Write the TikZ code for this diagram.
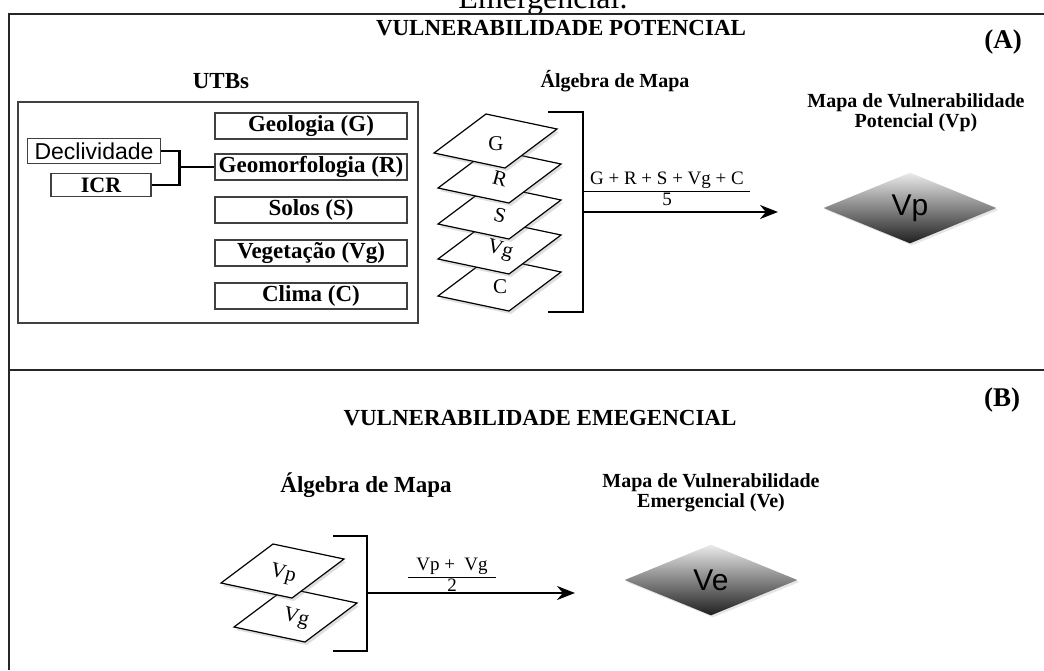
\documentclass[tikz,border=0pt]{standalone}
\usepackage{fontspec}
\setmainfont{Liberation Serif}
\setsansfont{Liberation Sans}
\usetikzlibrary{arrows.meta,shapes.geometric,shadows}

\tikzset{
  frame/.style={line width=1pt, black!85},
  heading/.style={font=\bfseries\fontsize{11.5}{10}\selectfont, align=center, inner sep=0pt},
  utb/.style={draw=black!75, line width=0.7pt, fill=white, minimum width=96pt, minimum height=13pt, inner sep=0pt, font=\bfseries\fontsize{11.5}{12}\selectfont},
  link/.style={line width=1.2pt},
  layer/.style={draw, line width=0.6pt, fill=white, drop shadow={opacity=0.25, shadow xshift=1pt, shadow yshift=-1.5pt}},
  layertext/.style={font=\fontsize{10.5}{11}\selectfont, inner sep=0pt},
  bracket/.style={line width=1.3pt},
  formula/.style={font=\fontsize{9.5}{10}\selectfont, inner sep=0pt},
  mapa/.style={shape=diamond, minimum width=86.5pt, minimum height=35.5pt, inner sep=0pt,
    top color=black!8, middle color=black!45, bottom color=black!88,
    drop shadow={opacity=0.2, shadow xshift=1pt, shadow yshift=-1pt},
    font=\sffamily\fontsize{15}{15}\selectfont}
}

% one map layer: name, x, y, label angle, label
\newcommand{\maplayer}[5]{%
  \draw[layer] (#2-61,#3+12) -- (#2+10,#3+27) -- (#2+62,#3-12) -- (#2-9,#3-27) -- cycle;
  \node[layertext, rotate=#4] (#1) at (#2+1,#3+3) {#5};
}

\begin{document}
\begin{tikzpicture}[x=0.5pt, y=-0.5pt, >=Stealth]
    \useasboundingbox (0,0) rectangle (1044,670);
    \clip (0,0) rectangle (1044,670);

    % caption of the figure, cut at the top
    \node[font=\fontsize{16}{16}\selectfont, anchor=base] (caption) at (543,8) {Emergencial.};

    % frame and the line between the two parts
    \draw[frame] (1044,14) -- (9,14) -- (9,670);
    \draw[frame] (9,370) -- (1044,370);

    % ---- part (A) ----
    \node[heading] (titleA) at (561,28) {VULNERABILIDADE POTENCIAL};
    \node[heading, font=\bfseries\fontsize{13.5}{14}\selectfont] (labA) at (1003,42) {(A)};
    \node[heading] (utbs) at (221,81) {UTBs};
    \node[heading, font=\bfseries\fontsize{10}{10}\selectfont] (algA) at (615,81) {Álgebra de Mapa};
    \node[heading, font=\bfseries\fontsize{10}{9}\selectfont] (mapaA) at (916,113) {Mapa de Vulnerabilidade\\Potencial (Vp)};

    % box of the UTBs
    \node[draw=black!75, line width=0.7pt, minimum width=200pt, minimum height=110.5pt, inner sep=0pt] (utbbox) at (218,212.5) {};
    \node[utb] (geo) at (311,126) {Geologia (G)};
    \node[utb] (geomorf) at (311,167) {Geomorfologia (R)};
    \node[utb] (solos) at (311,210) {Solos (S)};
    \node[utb] (veg) at (311,253) {Vegetação (Vg)};
    \node[utb] (clima) at (311,296) {Clima (C)};

    % inputs of the geomorphology
    \node[draw=black!75, line width=0.7pt, minimum width=66.5pt, minimum height=12.5pt, inner sep=0pt,
      font=\sffamily\fontsize{11.5}{12}\selectfont] (decl) at (94,151) {Declividade};
    \node[draw=black!75, line width=0.7pt, minimum width=50pt, minimum height=11.5pt, inner sep=0pt,
      font=\bfseries\fontsize{11}{12}\selectfont] (icr) at (101,185) {ICR};
    \coordinate (jn) at ([xshift=-17.5pt]geomorf.west);
    \draw[link] (decl.east) -| (jn) |- (icr.east);
    \draw[link] (jn) -- (geomorf.west);

    % layers of the map algebra, from the bottom one up
    \maplayer{lyC}{499}{284}{0}{C}
    \maplayer{lyVg}{499}{247}{-15}{Vg}
    \maplayer{lyS}{499}{212}{-15}{S}
    \maplayer{lyR}{499}{176}{-15}{R}
    \maplayer{lyG}{495}{141}{0}{G}

    % bracket and arrow to the map
    \draw[bracket] (548,112) -- (583,112) -- (583,312) -- (548,312);
    \coordinate (brA) at (583,212);
    \coordinate (tipA) at (778,212);
    \draw[->, line width=1pt, arrows={-Stealth[length=9pt, width=7pt]}] (brA) -- (tipA);
    \node[formula] (fA) at (667,191) {\begin{tabular}{@{\hspace{3pt}}c@{\hspace{3pt}}}G + R + S + Vg + C\\\hline 5\end{tabular}};

    \node[mapa] (vp) at (910,208) {Vp};

    % ---- part (B) ----
    \node[heading] (titleB) at (540,418) {VULNERABILIDADE EMEGENCIAL};
    \node[heading, font=\bfseries\fontsize{13.5}{14}\selectfont] (labB) at (1002,400) {(B)};
    \node[heading] (algB) at (366,485) {Álgebra de Mapa};
    \node[heading, font=\bfseries\fontsize{10}{9}\selectfont] (mapaB) at (711,493) {Mapa de Vulnerabilidade\\Emergencial (Ve)};

    \maplayer{lyVg2}{295}{615}{-15}{Vg}
    \maplayer{lyVp}{282}{571}{-15}{Vp}

    \draw[bracket] (333,536) -- (367,536) -- (367,651) -- (333,651);
    \coordinate (brB) at (367,593);
    \coordinate (tipB) at (575,593);
    \draw[->, line width=1pt, arrows={-Stealth[length=9pt, width=7pt]}] (brB) -- (tipB);
    \node[formula] (fB) at (452,577) {\begin{tabular}{@{\hspace{4pt}}c@{\hspace{4pt}}}Vp + \ Vg\\\hline 2\end{tabular}};

    \node[mapa] (ve) at (711,580) {Ve};
\end{tikzpicture}
\end{document}
